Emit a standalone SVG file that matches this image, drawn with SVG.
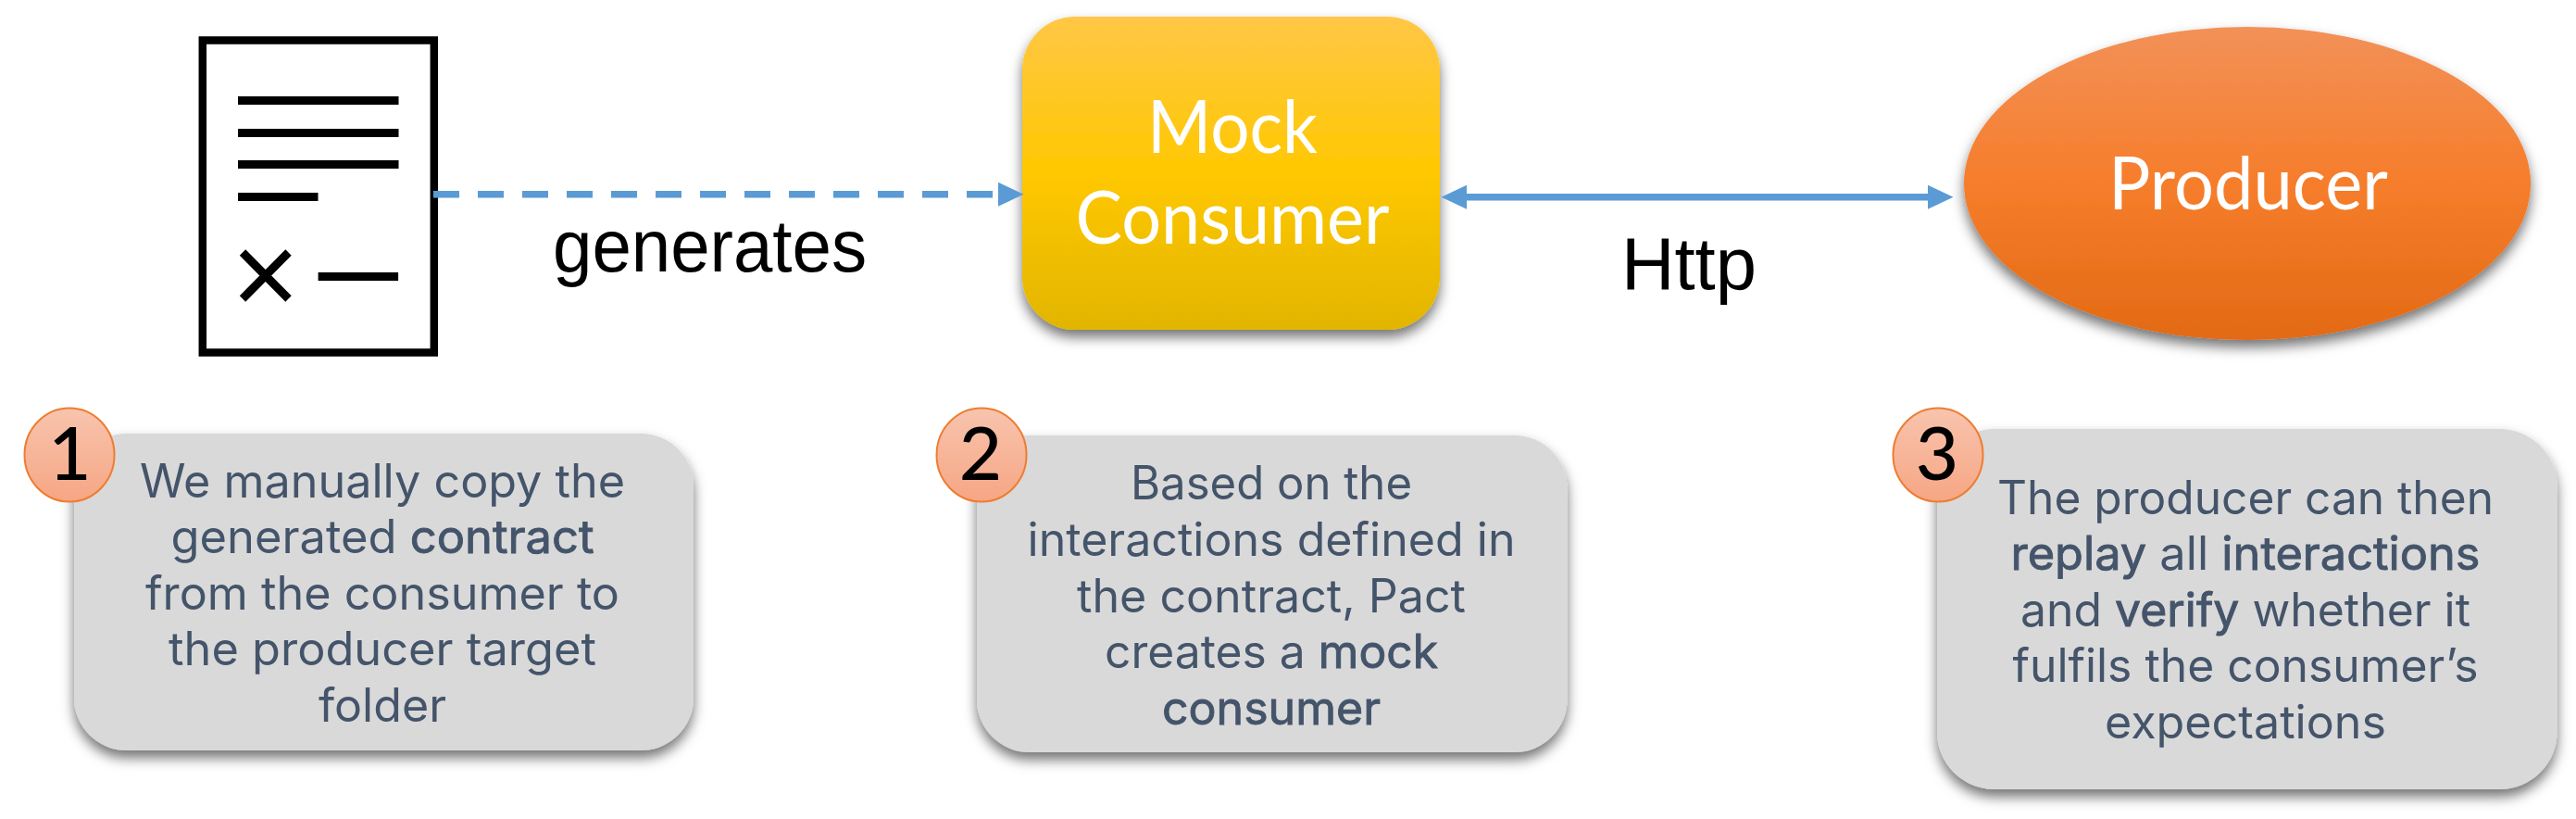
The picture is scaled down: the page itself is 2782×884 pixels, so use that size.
<svg xmlns="http://www.w3.org/2000/svg" width="2782" height="884" viewBox="0 0 2782 884">
<style>
.doc{fill:none;stroke:#000;stroke-width:8.5}
.ink{stroke:#000;stroke-width:9;fill:none}
.label{font-family:"Liberation Sans",Arial,sans-serif;font-size:80px;fill:#000}
.title{font-family:Lato,"Open Sans",sans-serif;font-size:80px;fill:#fff;text-anchor:middle}
.card{fill:#d9d9d9;filter:url(#shadow)}
.body{font-family:Inter,"Open Sans",sans-serif;font-size:50px;fill:#44546a;text-anchor:middle}
.body tspan{stroke:#44546a;stroke-width:0.9}
.badge{fill:url(#badgeFill);stroke:#ed7d31;stroke-width:2}
.num{font-family:Lato,"Open Sans",sans-serif;font-size:80px;font-weight:500;fill:#000;text-anchor:middle}
.wire{stroke:#5b9bd5;stroke-width:7.5;fill:none}
</style>
<defs>
<linearGradient id="mockFill" x1="0" y1="0" x2="0" y2="1"><stop offset="0" stop-color="#ffc746"/><stop offset="0.5" stop-color="#ffc800"/><stop offset="1" stop-color="#e2b500"/></linearGradient>
<linearGradient id="prodFill" x1="0" y1="0" x2="0" y2="1"><stop offset="0" stop-color="#f29158"/><stop offset="0.5" stop-color="#f67d2b"/><stop offset="1" stop-color="#e36a14"/></linearGradient>
<linearGradient id="badgeFill" x1="0" y1="0" x2="0" y2="1"><stop offset="0" stop-color="#f8c4ae"/><stop offset="1" stop-color="#f6a684"/></linearGradient>
<filter id="shadow" x="-10%" y="-10%" width="120%" height="125%"><feDropShadow dx="0" dy="8" stdDeviation="7" flood-color="#000" flood-opacity="0.55"/></filter>
<marker id="head" markerUnits="userSpaceOnUse" markerWidth="28" markerHeight="28" refX="0" refY="14" orient="auto-start-reverse"><polygon points="0,1 27.5,14 0,27" fill="#5b9bd5"/></marker>
</defs>
<g id="contract">
<rect class="doc" x="218.8" y="43.5" width="250" height="337"/>
<rect x="257" y="104" width="173.5" height="9"/>
<rect x="257" y="139" width="173.5" height="9"/>
<rect x="257" y="173" width="173.5" height="9"/>
<rect x="257" y="208" width="86.5" height="9"/>
<path class="ink" d="M262 272.5L311.5 322.5M311.5 272.5L262 322.5"/>
<rect x="343.6" y="294" width="86.5" height="9"/>
</g>
<g id="mock-consumer">
<rect x="1104" y="18" width="451" height="338" rx="57" fill="url(#mockFill)" filter="url(#shadow)"/>
<text class="title" x="1331" y="165" textLength="184" lengthAdjust="spacingAndGlyphs">Mock</text>
<text class="title" x="1331" y="263" textLength="339" lengthAdjust="spacingAndGlyphs">Consumer</text>
</g>
<g id="producer">
<ellipse cx="2427" cy="198" rx="306" ry="169" fill="url(#prodFill)" filter="url(#shadow)"/>
<text class="title" x="2428" y="226" textLength="302" lengthAdjust="spacingAndGlyphs">Producer</text>
</g>
<g id="connectors">
<line class="wire" x1="468" y1="209.7" x2="1078" y2="209.7" stroke-dasharray="28 20" marker-end="url(#head)"/>
<line class="wire" x1="1584" y1="212.7" x2="2082" y2="212.7" marker-start="url(#head)" marker-end="url(#head)"/>
<text class="label" x="597" y="293" textLength="339" lengthAdjust="spacingAndGlyphs">generates</text>
<text class="label" x="1751" y="312" textLength="146" lengthAdjust="spacingAndGlyphs">Http</text>
</g>
<g id="step-1">
<rect class="card" x="80" y="468" width="669" height="342" rx="57"/>
<text class="body" x="413" y="537" textLength="524" lengthAdjust="spacingAndGlyphs">We manually copy the</text>
<text class="body" x="413" y="597" textLength="457" lengthAdjust="spacingAndGlyphs">generated <tspan>contract</tspan></text>
<text class="body" x="413" y="658" textLength="512" lengthAdjust="spacingAndGlyphs">from the consumer to</text>
<text class="body" x="413" y="718" textLength="462" lengthAdjust="spacingAndGlyphs">the producer target</text>
<text class="body" x="413" y="779" textLength="138" lengthAdjust="spacingAndGlyphs">folder</text>
<ellipse class="badge" cx="75" cy="491" rx="48.5" ry="50.5"/>
<text class="num" x="75.5" y="518">1</text>
</g>
<g id="step-2">
<rect class="card" x="1055" y="470" width="637.5" height="342" rx="57"/>
<text class="body" x="1373" y="539" textLength="304" lengthAdjust="spacingAndGlyphs">Based on the</text>
<text class="body" x="1373" y="600" textLength="527" lengthAdjust="spacingAndGlyphs">interactions defined in</text>
<text class="body" x="1373" y="661" textLength="420" lengthAdjust="spacingAndGlyphs">the contract, Pact</text>
<text class="body" x="1373" y="721" textLength="360" lengthAdjust="spacingAndGlyphs">creates a <tspan>mock</tspan></text>
<text class="body" x="1373" y="782" textLength="236" lengthAdjust="spacingAndGlyphs"><tspan>consumer</tspan></text>
<ellipse class="badge" cx="1060" cy="491" rx="48.5" ry="50.5"/>
<text class="num" x="1059" y="518">2</text>
</g>
<g id="step-3">
<rect class="card" x="2092" y="463" width="669.5" height="389" rx="62"/>
<text class="body" x="2425" y="555" textLength="536" lengthAdjust="spacingAndGlyphs">The producer can then</text>
<text class="body" x="2425" y="615" textLength="507" lengthAdjust="spacingAndGlyphs"><tspan>replay</tspan> all <tspan>interactions</tspan></text>
<text class="body" x="2425" y="676" textLength="486" lengthAdjust="spacingAndGlyphs">and <tspan>verify</tspan> whether it</text>
<text class="body" x="2425" y="736" textLength="503" lengthAdjust="spacingAndGlyphs">fulfils the consumer’s</text>
<text class="body" x="2425" y="797" textLength="304" lengthAdjust="spacingAndGlyphs">expectations</text>
<ellipse class="badge" cx="2093" cy="491" rx="48.5" ry="50.5"/>
<text class="num" x="2092" y="518">3</text>
</g>
</svg>
